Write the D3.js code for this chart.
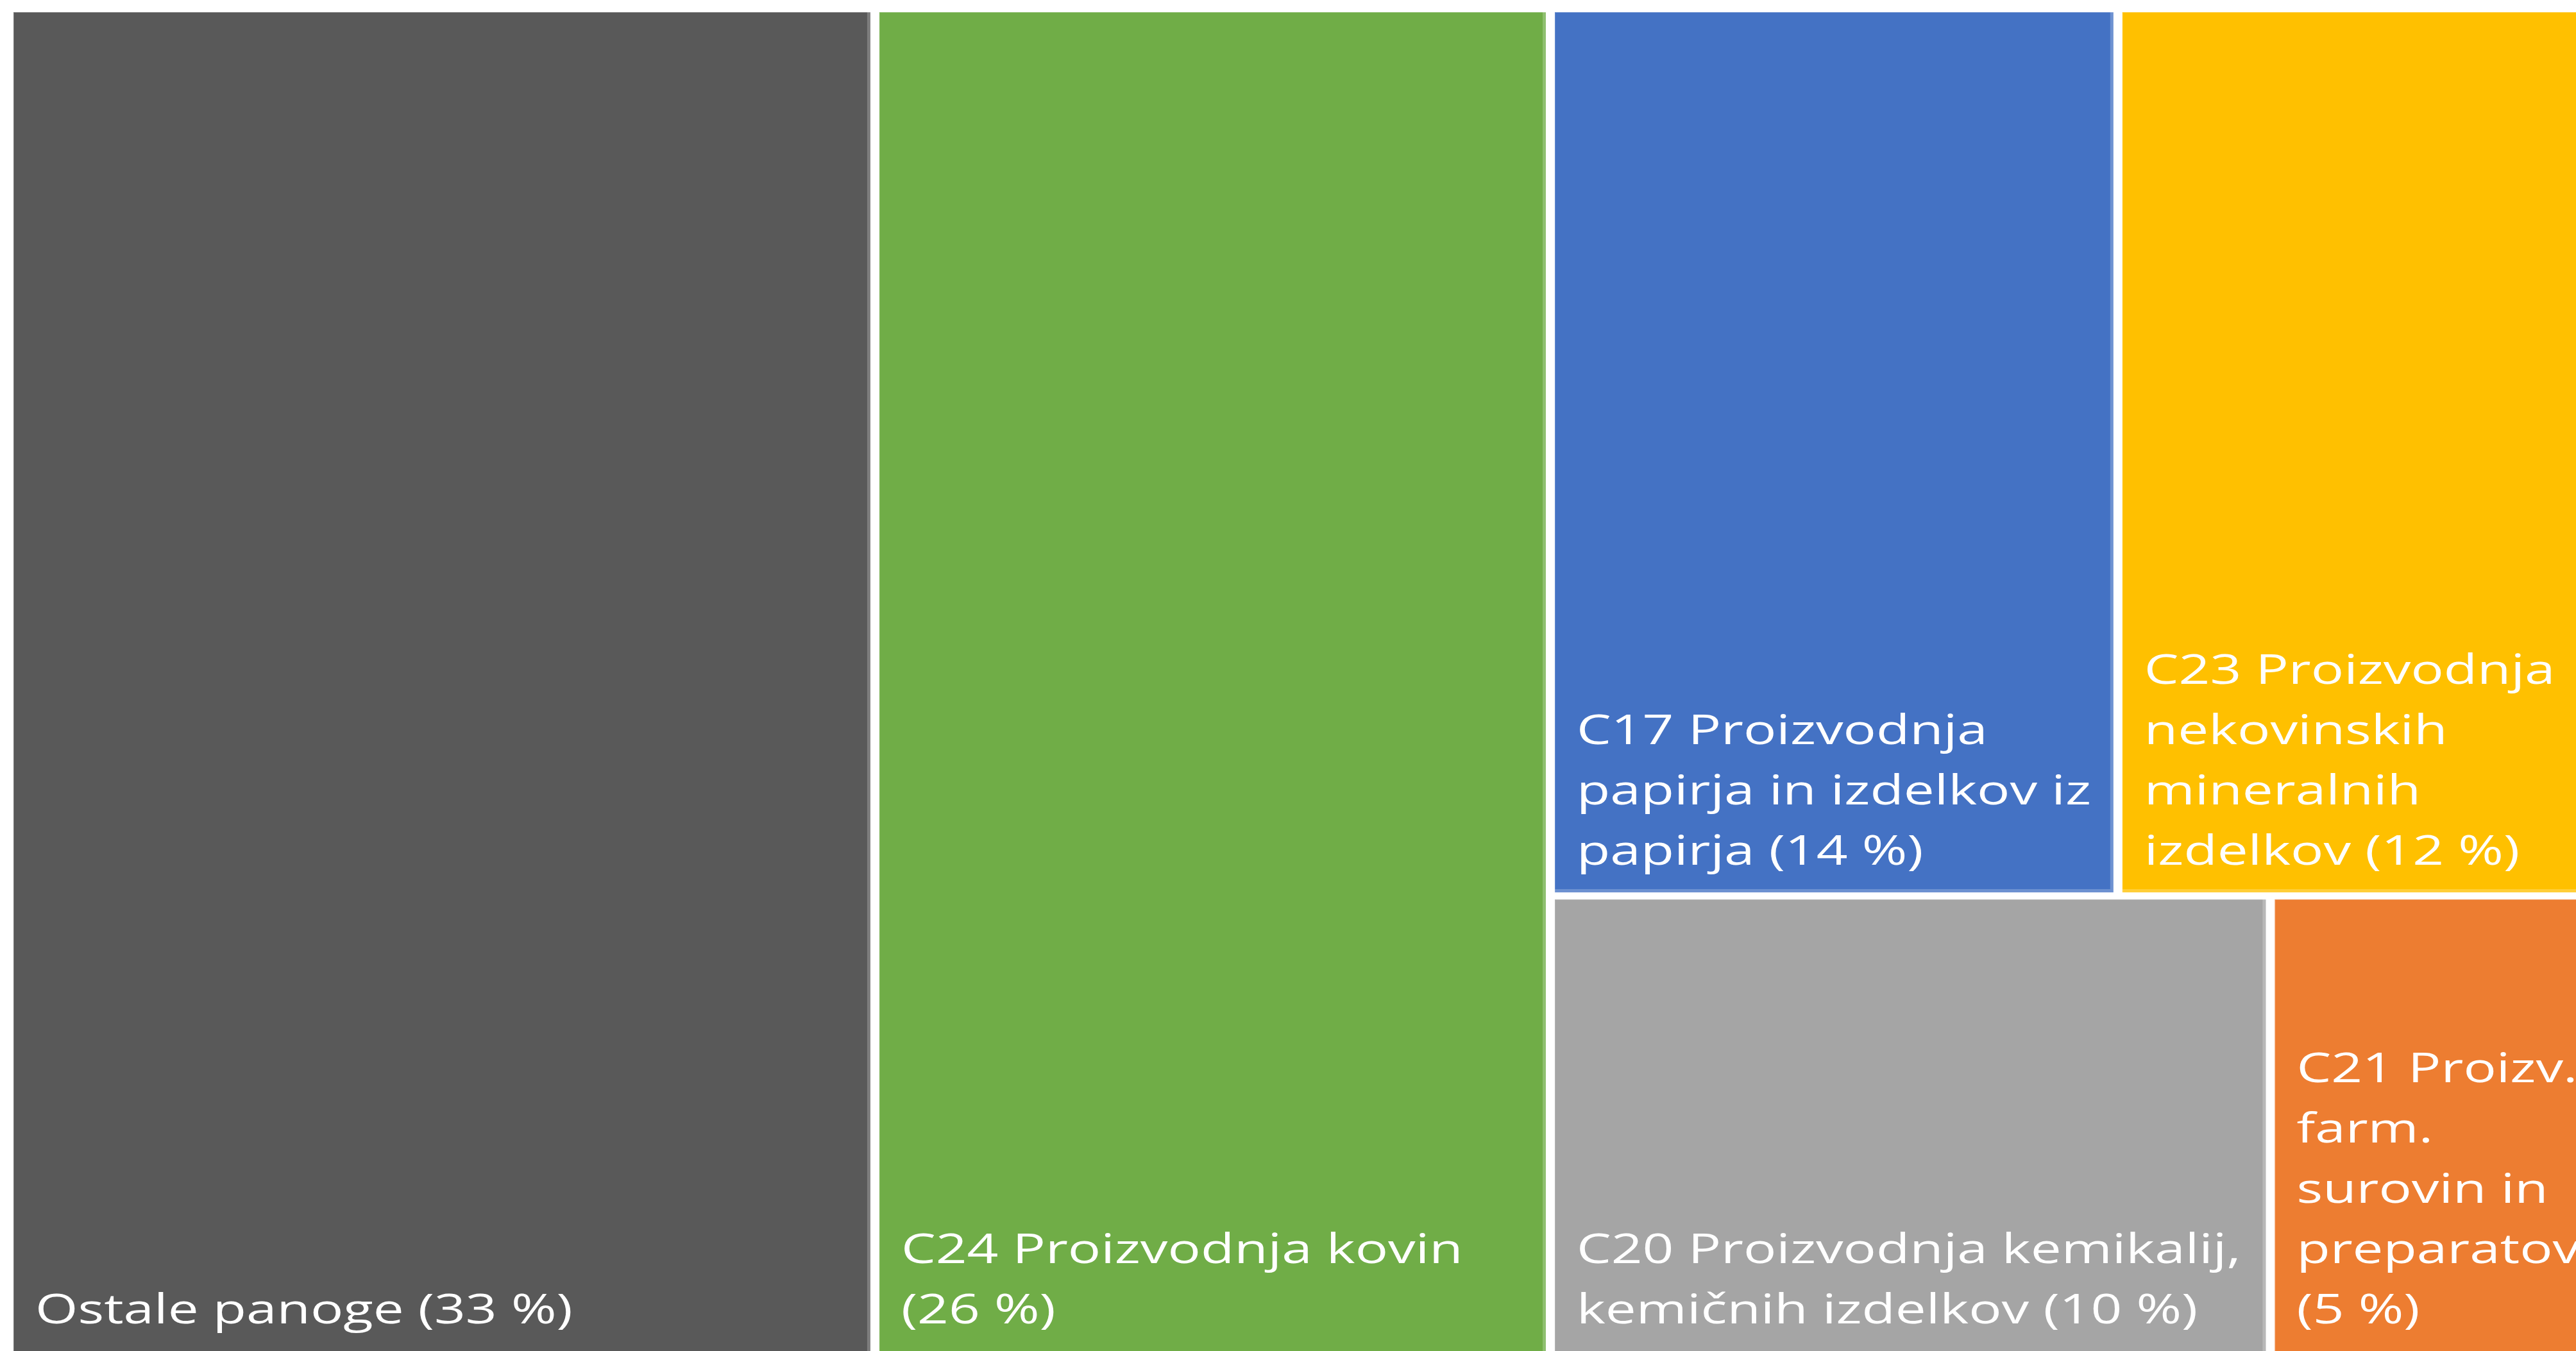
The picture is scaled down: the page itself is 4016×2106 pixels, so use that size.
<!DOCTYPE html>
<html>
<head>
<meta charset="utf-8">
<script src="https://cdn.jsdelivr.net/npm/d3@7"></script>
<style>
  html, body { margin: 0; padding: 0; background: #fff; overflow: hidden; }
  svg { display: block; }
</style>
</head>
<body>
<div id="chart"></div>
<script>
// shares read from tile areas (labels show them rounded)
const categories = ["Ostale panoge", "C24 Proizvodnja kovin", "C17 Proizvodnja papirja in izdelkov iz papirja",
  "C23 Proizvodnja nekovinskih mineralnih izdelkov", "C20 Proizvodnja kemikalij, kemičnih izdelkov",
  "C21 Proizv. farm. surovin in preparatov"];
const shares = [33.2, 25.9, 13.8, 12.2, 10.1, 4.9];
const colors = ["#595959", "#70ad47", "#4472c4", "#ffc000", "#a5a5a5", "#ed7d31"];
// line breaks as in the original label boxes
const labelLines = [
  ["Ostale panoge"],
  ["C24 Proizvodnja kovin"],
  ["C17 Proizvodnja", "papirja in izdelkov iz", "papirja"],
  ["C23 Proizvodnja", "nekovinskih", "mineralnih", "izdelkov"],
  ["C20 Proizvodnja kemikalij,", "kemičnih izdelkov"],
  ["C21 Proizv.", "farm.", "surovin in", "preparatov"]
];
// does the "(xx %)" part wrap to its own line?
const pctOwnLine = [false, true, false, false, false, true];
// nesting: two full-height columns, then a block of two rows
const layoutTree = [0, 1, [[2, 3], [4, 5]]];

const width = 4016, height = 2106;
const margin = {left: 21, top: 19};
const areaW = 4056, areaH = 2170;   // tile area runs past the picture edge (cropped)
const lineH = 94, padX = 34, padBottom = 43, stretch = 1.335;

function build(node) {
  if (Array.isArray(node)) return {children: node.map(build)};
  return {idx: node, value: shares[node]};
}

const root = d3.hierarchy(build(layoutTree)).sum(d => d.value || 0);

d3.treemap()
  .tile(d3.treemapSliceDice)
  .size([areaW, areaH])
  .paddingInner(n => n.depth === 1 ? 11 : 14)(root);

const svg = d3.select("#chart").append("svg")
  .attr("width", width)
  .attr("height", height);

const g = svg.append("g").attr("transform", `translate(${margin.left},${margin.top})`);

const leaf = g.selectAll("g.tile")
  .data(root.leaves())
  .join("g")
  .attr("class", "tile");

leaf.append("rect")
  .attr("x", d => d.x0)
  .attr("y", d => d.y0)
  .attr("width", d => d.x1 - d.x0)
  .attr("height", d => d.y1 - d.y0)
  .style("fill", d => colors[d.data.idx]);

// light rim, thicker on right and bottom
leaf.append("path")
  .attr("d", d => `M${d.x1 - 2.5},${d.y0} V${d.y1 - 2.5} H${d.x0}`)
  .style("fill", "none")
  .style("stroke", "#fff")
  .style("stroke-opacity", 0.22)
  .style("stroke-width", 5);
leaf.append("path")
  .attr("d", d => `M${d.x0 + 0.5},${d.y1} V${d.y0 + 0.5} H${d.x1}`)
  .style("fill", "none")
  .style("stroke", "#fff")
  .style("stroke-opacity", 0.18)
  .style("stroke-width", 1);

// labels sit at the bottom-left of the visible part of each tile
leaf.each(function(d) {
  const i = d.data.idx;
  const lines = labelLines[i].slice();
  const pct = `(${Math.round(shares[i])} %)`;
  if (pctOwnLine[i]) lines.push(pct);
  else lines[lines.length - 1] += " " + pct;
  const visBottom = Math.min(d.y1, height - margin.top);
  const y0 = visBottom - padBottom - (lines.length - 1) * lineH;
  const t = d3.select(this).append("text")
    .attr("transform", `translate(${d.x0 + padX},${y0}) scale(${stretch},1)`)
    .style("font-family", "'Open Sans', sans-serif")
    .style("font-size", "64px")
    .style("fill", "#fff");
  t.selectAll("tspan")
    .data(lines)
    .join("tspan")
    .attr("x", 0)
    .attr("dy", (l, k) => k === 0 ? 0 : lineH)
    .text(l => l);
});
</script>
</body>
</html>
